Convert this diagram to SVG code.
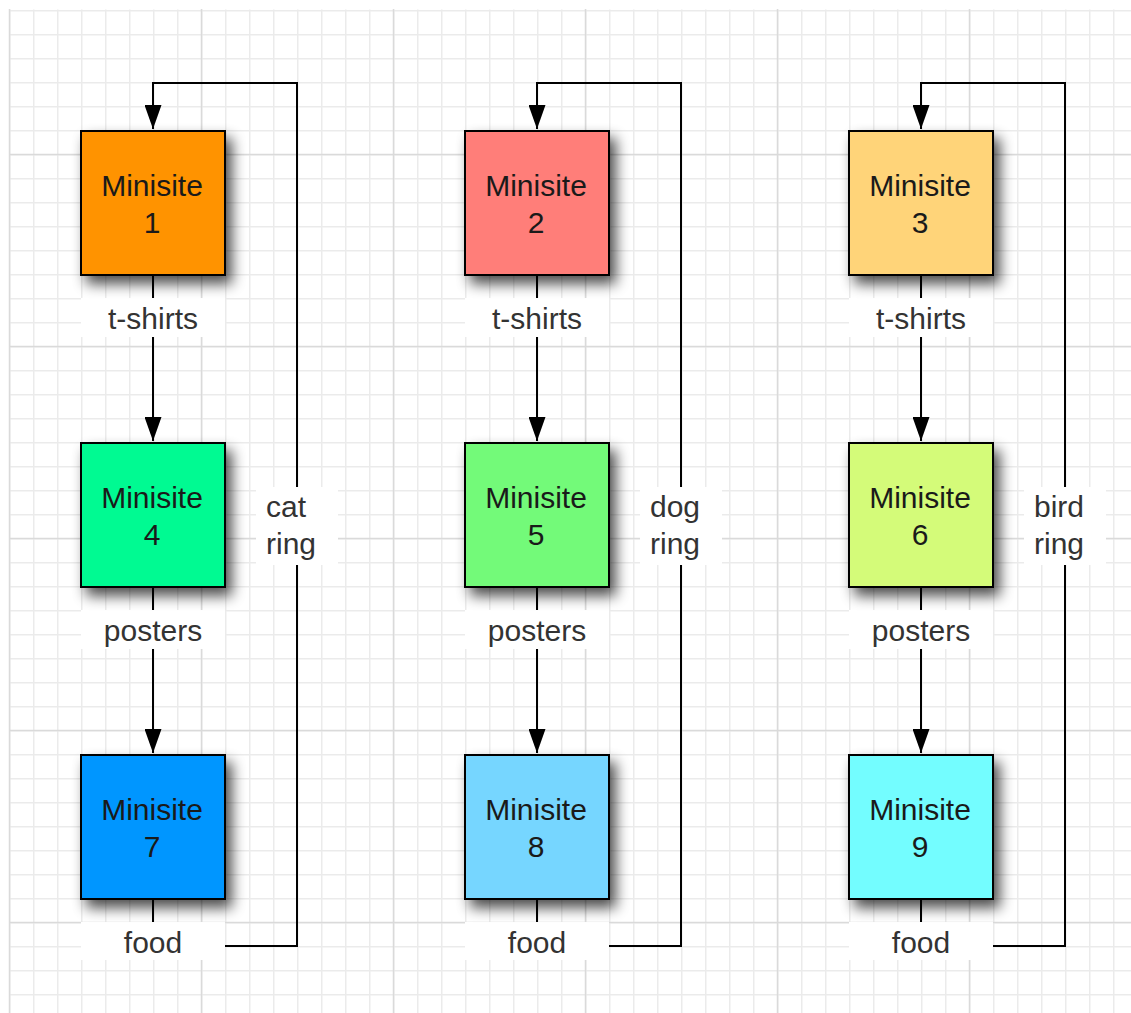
<svg xmlns="http://www.w3.org/2000/svg" width="1131" height="1013" viewBox="0 0 1131 1013">
  <defs>
    <pattern id="minor" patternUnits="userSpaceOnUse" x="9" y="10" width="24" height="24">
      <rect x="0" y="0" width="1.5" height="24" fill="#ebebeb"/>
      <rect x="0" y="0" width="24" height="1.5" fill="#ebebeb"/>
    </pattern>
    <filter id="shadow" x="-25%" y="-25%" width="160%" height="160%">
      <feGaussianBlur in="SourceAlpha" stdDeviation="7"/>
      <feOffset dx="6" dy="8" result="b"/>
      <feComponentTransfer><feFuncA type="linear" slope="0.7"/></feComponentTransfer>
      <feMerge><feMergeNode/><feMergeNode in="SourceGraphic"/></feMerge>
    </filter>
    <marker id="arrow" markerUnits="userSpaceOnUse" viewBox="0 0 24 17" refX="24" refY="8.5" markerWidth="24" markerHeight="17" orient="auto">
      <path d="M0,0 L24,8.5 L0,17 z" fill="#000"/>
    </marker>
    <style>
      .box { stroke: #000; stroke-width: 2; }
      .ntext { font-family: "Liberation Sans", Arial, sans-serif; font-size: 30px; fill: #1a1a1a; text-anchor: middle; }
      .ltext { font-family: "Liberation Sans", Arial, sans-serif; font-size: 30px; fill: #333; text-anchor: middle; }
      .rtext { font-family: "Liberation Sans", Arial, sans-serif; font-size: 30px; fill: #333; text-anchor: start; }
      .conn { fill: none; stroke: #000; stroke-width: 2; }
      .major { stroke: #dadada; stroke-width: 1.5; fill: none; }
      .lbg { fill: #fff; }
    </style>
  </defs>

  <g id="background">
    <rect x="0" y="0" width="1131" height="1013" fill="#fff"/>
    <rect x="9" y="9.5" width="1122" height="1003.5" fill="url(#minor)"/>
    <path class="major" d="M9.5,9 V1013 M201.5,9 V1013 M393.5,9 V1013 M585.5,9 V1013 M777.5,9 V1013 M969.5,9 V1013 M9,154.5 H1131 M9,346.5 H1131 M9,538.5 H1131 M9,730.5 H1131 M9,922.5 H1131"/>
  </g>

  <g id="connectors">
    <line class="conn" x1="153" y1="275" x2="153" y2="441" marker-end="url(#arrow)"/>
    <line class="conn" x1="153" y1="587" x2="153" y2="753" marker-end="url(#arrow)"/>
    <line class="conn" x1="153" y1="899" x2="153" y2="930"/>
    <path class="conn" d="M225,946 H297 V83 H153 V129" marker-end="url(#arrow)"/>

    <line class="conn" x1="537" y1="275" x2="537" y2="441" marker-end="url(#arrow)"/>
    <line class="conn" x1="537" y1="587" x2="537" y2="753" marker-end="url(#arrow)"/>
    <line class="conn" x1="537" y1="899" x2="537" y2="930"/>
    <path class="conn" d="M609,946 H681 V83 H537 V129" marker-end="url(#arrow)"/>

    <line class="conn" x1="921" y1="275" x2="921" y2="441" marker-end="url(#arrow)"/>
    <line class="conn" x1="921" y1="587" x2="921" y2="753" marker-end="url(#arrow)"/>
    <line class="conn" x1="921" y1="899" x2="921" y2="930"/>
    <path class="conn" d="M993,946 H1065 V83 H921 V129" marker-end="url(#arrow)"/>
  </g>

  <g id="labels">
    <g id="label-tshirts-1"><rect class="lbg" x="81" y="298" width="144" height="39"/><text class="ltext" x="153" y="329">t-shirts</text></g>
    <g id="label-posters-1"><rect class="lbg" x="81" y="610" width="144" height="39"/><text class="ltext" x="153" y="641">posters</text></g>
    <g id="label-food-1"><rect class="lbg" x="81" y="922" width="144" height="38"/><text class="ltext" x="153" y="953">food</text></g>
    <g id="label-ring-cat"><rect class="lbg" x="256" y="487" width="82" height="78"/><text class="rtext" x="266" y="517">cat</text><text class="rtext" x="266" y="554">ring</text></g>

    <g id="label-tshirts-2"><rect class="lbg" x="465" y="298" width="144" height="39"/><text class="ltext" x="537" y="329">t-shirts</text></g>
    <g id="label-posters-2"><rect class="lbg" x="465" y="610" width="144" height="39"/><text class="ltext" x="537" y="641">posters</text></g>
    <g id="label-food-2"><rect class="lbg" x="465" y="922" width="144" height="38"/><text class="ltext" x="537" y="953">food</text></g>
    <g id="label-ring-dog"><rect class="lbg" x="640" y="487" width="82" height="78"/><text class="rtext" x="650" y="517">dog</text><text class="rtext" x="650" y="554">ring</text></g>

    <g id="label-tshirts-3"><rect class="lbg" x="849" y="298" width="144" height="39"/><text class="ltext" x="921" y="329">t-shirts</text></g>
    <g id="label-posters-3"><rect class="lbg" x="849" y="610" width="144" height="39"/><text class="ltext" x="921" y="641">posters</text></g>
    <g id="label-food-3"><rect class="lbg" x="849" y="922" width="144" height="38"/><text class="ltext" x="921" y="953">food</text></g>
    <g id="label-ring-bird"><rect class="lbg" x="1024" y="487" width="82" height="78"/><text class="rtext" x="1034" y="517">bird</text><text class="rtext" x="1034" y="554">ring</text></g>
  </g>

  <g id="node1"><rect class="box" x="81" y="131" width="144" height="144" fill="#FF9300" filter="url(#shadow)"/><text class="ntext" x="152" y="196">Minisite</text><text class="ntext" x="152" y="233">1</text></g>
  <g id="node2"><rect class="box" x="465" y="131" width="144" height="144" fill="#FF7E79" filter="url(#shadow)"/><text class="ntext" x="536" y="196">Minisite</text><text class="ntext" x="536" y="233">2</text></g>
  <g id="node3"><rect class="box" x="849" y="131" width="144" height="144" fill="#FFD479" filter="url(#shadow)"/><text class="ntext" x="920" y="196">Minisite</text><text class="ntext" x="920" y="233">3</text></g>
  <g id="node4"><rect class="box" x="81" y="443" width="144" height="144" fill="#00FA92" filter="url(#shadow)"/><text class="ntext" x="152" y="508">Minisite</text><text class="ntext" x="152" y="545">4</text></g>
  <g id="node5"><rect class="box" x="465" y="443" width="144" height="144" fill="#73FA79" filter="url(#shadow)"/><text class="ntext" x="536" y="508">Minisite</text><text class="ntext" x="536" y="545">5</text></g>
  <g id="node6"><rect class="box" x="849" y="443" width="144" height="144" fill="#D4FB79" filter="url(#shadow)"/><text class="ntext" x="920" y="508">Minisite</text><text class="ntext" x="920" y="545">6</text></g>
  <g id="node7"><rect class="box" x="81" y="755" width="144" height="144" fill="#0096FF" filter="url(#shadow)"/><text class="ntext" x="152" y="820">Minisite</text><text class="ntext" x="152" y="857">7</text></g>
  <g id="node8"><rect class="box" x="465" y="755" width="144" height="144" fill="#76D6FF" filter="url(#shadow)"/><text class="ntext" x="536" y="820">Minisite</text><text class="ntext" x="536" y="857">8</text></g>
  <g id="node9"><rect class="box" x="849" y="755" width="144" height="144" fill="#73FDFF" filter="url(#shadow)"/><text class="ntext" x="920" y="820">Minisite</text><text class="ntext" x="920" y="857">9</text></g>
</svg>
